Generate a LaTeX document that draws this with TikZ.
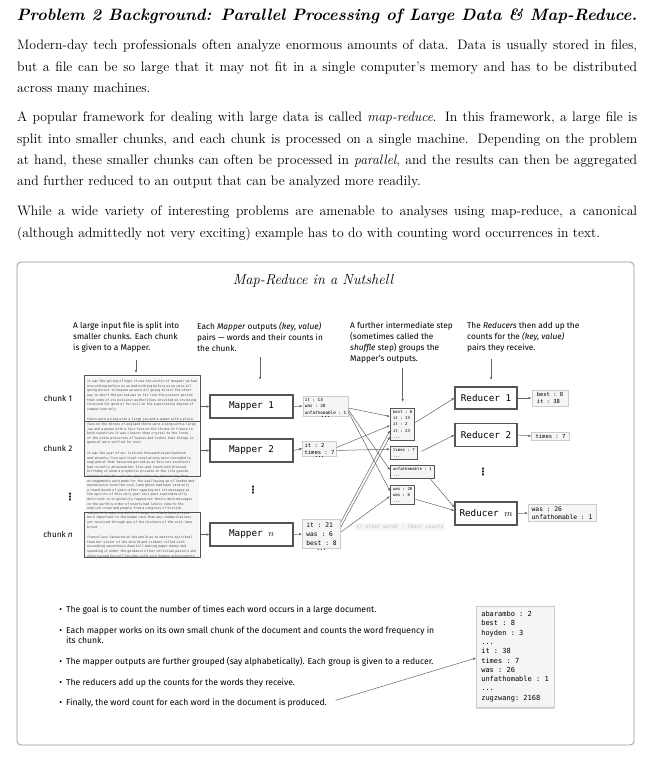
\documentclass[tikz,border=0pt]{standalone}
\usepackage{fontspec}
\setmonofont{DejaVu Sans Mono}
\newfontfamily\fira{Fira Sans}
\newfontfamily\dejavu{DejaVu Sans}
\usepackage{amsmath, amssymb}
\usetikzlibrary{arrows.meta, shadows}
\definecolor{pagegray}{RGB}{245,245,245}
\definecolor{edgegray}{RGB}{85,85,85}
\definecolor{linegray}{RGB}{100,100,100}
\definecolor{rulegray}{RGB}{150,150,150}

\begin{document}
\begin{tikzpicture}[x=1pt, y=-1pt, >={Latex[length=3pt,width=2.4pt]},
  body/.style={inner sep=0, anchor=north west, text width=620pt, align=justify, font=\fontsize{13.7}{21.25}\selectfont},
  note/.style={inner sep=0, anchor=north west, align=left, font=\fira\fontsize{8.3}{11}\selectfont},
  chunk/.style={draw=edgegray, line width=1.1pt, anchor=north west, minimum width=116pt, inner sep=0},
  worker/.style={draw=edgegray, line width=1.1pt, fill=white, minimum width=83pt, minimum height=23pt, font=\ttfamily\fontsize{9.3}{11}\selectfont},
  kv/.style={draw=gray!40, fill=pagegray, align=left, inner sep=2pt, font=\ttfamily\fontsize{4.3}{6.5}\selectfont, drop shadow={shadow xshift=.6pt, shadow yshift=-.6pt, opacity=.25}},
  shufflebox/.style={draw=edgegray, line width=1.1pt, fill=pagegray, anchor=north west, align=left, inner xsep=2.5pt, inner ysep=2pt, font=\ttfamily\fontsize{4}{6.2}\selectfont},
  ellip/.style={anchor=north, inner sep=.5pt, font=\ttfamily\bfseries\fontsize{5}{5}\selectfont},
  vdotsmark/.style={inner sep=0, font=\dejavu\bfseries\fontsize{10}{10}\selectfont},
  bulletline/.style={inner sep=0, anchor=west, align=left, font=\fira\fontsize{8.6}{10.5}\selectfont},
  wire/.style={->, draw=linegray, line width=.5pt}]
  \useasboundingbox (0,0) rectangle (653,770);

  % heading and text
  \node[font=\bfseries\itshape\fontsize{16.5}{19}\selectfont] (title) at (327,16) {Problem 2 Background: Parallel Processing of Large Data \& Map-Reduce.};
  \node[body] (para1) at (17,40) {Modern-day tech professionals often analyze enormous amounts of data. Data is usually stored in files,\linebreak but a file can be so large that it may not fit in a single computer's memory and has to be distributed\linebreak across many machines.};
  \node[body] (para2) at (17,112) {A popular framework for dealing with large data is called \emph{map-reduce}. In this framework, a large file is\linebreak split into smaller chunks, and each chunk is processed on a single machine. Depending on the problem\linebreak at hand, these smaller chunks can often be processed in \emph{parallel}, and the results can then be aggregated\linebreak and further reduced to an output that can be analyzed more readily.};
  \node[body] (para3) at (17,206) {While a wide variety of interesting problems are amenable to analyses using map-reduce, a canonical\linebreak (although admittedly not very exciting) example has to do with counting word occurrences in text.};

  % the box
  \draw[rulegray, line width=.8pt, rounded corners=4pt] (17,262) rectangle (634,745);
  \node[font=\itshape\fontsize{14.5}{16}\selectfont] (nutshell) at (313,281) {Map-Reduce in a Nutshell};

  \node[note] (col1) at (73,322) {A large input file is split into\\smaller chunks. Each chunk\\is given to a Mapper.};
  \node[note] (col2) at (197,322) {Each \textit{Mapper} outputs \textit{(key, value)}\\pairs — words and their counts in\\the chunk.};
  \node[note] (col3) at (350,322) {A further intermediate step\\(sometimes called the\\\textit{shuffle} step) groups the\\Mapper’s outputs.};
  \node[note] (col4) at (467,322) {The \textit{Reducers} then add up the\\counts for the \textit{(key, value)}\\pairs they receive.};

  % input file
  \node[fill=pagegray, anchor=north west, inner sep=0, minimum width=114pt, minimum height=180pt] (page) at (85,377) {};
  \begin{scope}
    \clip (85,377) rectangle (199,557);
    \node[anchor=north west, inner sep=0, text width=110pt, align=left, text=black!70, font=\ttfamily\fontsize{3.3}{4.6}\selectfont] (tale) at (87,380) {it was the spring of hope it was the winter of despair we had everything before us we had nothing before us we were all going direct to heaven we were all going direct the other way in short the period was so far like the present period that some of its noisiest authorities insisted on its being received for good or for evil in the superlative degree of comparison only\par\medskip
    there were a king with a large jaw and a queen with a plain face on the throne of england there were a king with a large jaw and a queen with a fair face on the throne of france in both countries it was clearer than crystal to the lords of the state preserves of loaves and fishes that things in general were settled for ever\par\medskip
    it was the year of our lord one thousand seven hundred and seventy-five spiritual revelations were conceded to england at that favoured period as at this mrs southcott had recently attained her five-and-twentieth blessed birthday of whom a prophetic private in the life guards had heralded the sublime appearance by announcing that arrangements were made for the swallowing up of london and westminster even the cock-lane ghost had been laid only a round dozen of years after rapping out its messages as the spirits of this very year last past supernaturally deficient in originality rapped out theirs mere messages in the earthly order of events had lately come to the english crown and people from a congress of british subjects in america which strange to relate have proved more important to the human race than any communications yet received through any of the chickens of the cock-lane brood\par\medskip
    france less favoured on the whole as to matters spiritual than her sister of the shield and trident rolled with exceeding smoothness down hill making paper money and spending it under the guidance of her christian pastors she entertained herself besides with such humane achievements as sentencing a youth to have his hands cut off};
  \end{scope}
  \node[chunk, minimum height=46pt] (c1) at (84,375) {};
  \node[chunk, minimum height=55pt] (c2) at (84,421) {};
  \node[chunk, minimum height=45pt] (cn) at (84,512) {};
  \node[font=\fira\fontsize{8.2}{10}\selectfont] (lab1) at (58,398) {chunk 1};
  \node[font=\fira\fontsize{8.2}{10}\selectfont] (lab2) at (58,448) {chunk 2};
  \node[vdotsmark] (labdots) at (70,497) {⋮};
  \node[font=\fira\fontsize{8.2}{10}\selectfont] (labn) at (58,534) {chunk \textit{n}};

  % mappers
  \node[worker] (m1) at (251.5,406.5) {Mapper 1};
  \node[worker] (m2) at (251.5,450.5) {Mapper 2};
  \node[vdotsmark] (mdots) at (253,490) {⋮};
  \node[worker] (mn) at (251.5,534.5) {Mapper $n$};
  \draw[wire] (m1.west -| c1.east) -- (m1.west);
  \draw[wire] (m2.west -| c2.east) -- (m2.west);
  \draw[wire] (mn.west -| cn.east) -- (mn.west);

  % mapper outputs
  \node[kv] (o1) at (325.5,406) {it : 13\\was : 20\\unfathomable : 1};
  \node[kv, font=\ttfamily\fontsize{5.5}{7}\selectfont] (o2) at (319.5,448.5) {it : 2\\times : 7};
  \node[kv, inner xsep=4pt, inner ysep=3pt, font=\ttfamily\fontsize{6.3}{9}\selectfont] (on) at (321.5,534) {it : 21\\was : 6\\best : 8};
  \node[ellip] (o1more) at (o1.south) {...};
  \node[ellip] (o2more) at (o2.south) {...};
  \node[ellip] (onmore) at (on.south) {...};
  \draw[wire] (m1.east) -- (o1.west);
  \draw[wire] (m2.east) -- (o2.west);
  \draw[wire] (mn.east) -- (on.west);

  % shuffle
  \node[shufflebox] (s1) at (390,408) {best : 8\\it : 13\\it : 2\\it : 23\\...};
  \node[shufflebox] (s2) at (390,446) {times : 7\\...};
  \node[shufflebox] (s3) at (390,465) {unfathomable : 1\\...};
  \node[shufflebox] (s4) at (390,485) {was : 20\\was : 6\\...};
  \node[fill=gray!7, text=gray!55, inner sep=1.5pt, font=\ttfamily\itshape\fontsize{5}{6}\selectfont] (others) at (400,527) {// other words : their counts};
  \draw[wire] ([yshift=-2pt]o1.east) -- ([yshift=8pt]s1.west);
  \draw[wire] ([yshift=-4pt]o1.east) -- ([yshift=2pt]s3.west);
  \draw[wire] ([yshift=-6pt]o1.east) -- ([yshift=4pt]s4.west);
  \draw[wire] ([yshift=1pt]o2.east) -- ([yshift=-1pt]s1.west);
  \draw[wire] ([yshift=-2pt]o2.east) -- ([yshift=4pt]s2.west);
  \draw[wire] ([yshift=12pt]on.east) -- ([yshift=-6pt]s1.west);
  \draw[wire] ([yshift=7pt]on.east) -- ([yshift=-12pt]s1.west);
  \draw[wire] ([yshift=2pt]on.east) -- ([yshift=-1pt]s4.west);

  % reducers
  \node[worker, minimum width=62pt, minimum height=22pt] (r1) at (486,398) {Reducer 1};
  \node[worker, minimum width=62pt, minimum height=23pt] (r2) at (486,435) {Reducer 2};
  \node[vdotsmark] (rdots) at (483,472) {⋮};
  \node[worker, minimum width=62pt, minimum height=23pt] (rm) at (486,513.5) {Reducer $m$};
  \draw[wire] ([yshift=2pt]s1.east) -- (r1.west);
  \draw[wire, shorten <=4pt] (s2.east) -- (r2.west);
  \draw[wire] ([xshift=-4pt]s3.south east) -- ([yshift=6pt]rm.west);
  \draw[wire] ([yshift=-4pt]s4.east) -- ([yshift=3pt]rm.west);

  % reducer outputs
  \node[kv, inner xsep=5pt, font=\ttfamily\fontsize{5.5}{7.5}\selectfont] (ro1) at (550,398) {best : 8\\it : 38};
  \node[kv, inner xsep=4pt, font=\ttfamily\fontsize{5.5}{7.5}\selectfont] (ro2) at (550.5,436) {times : 7};
  \node[kv, inner xsep=3.5pt, font=\ttfamily\fontsize{6.3}{8.5}\selectfont] (rom) at (562,513) {was : 26\\unfathomable : 1};
  \draw[wire] (r1.east) -- (ro1.west);
  \draw[wire] (r2.east) -- (ro2.west);
  \draw[wire] (rm.east) -- (rom.west);

  % the column arrows
  \coordinate (pin1) at (136,373);
  \coordinate (pin2) at (260,380);
  \coordinate (pin4) at (491,380);
  \draw[wire, shorten <=7pt] (col1.south -| pin1) -- (pin1);
  \draw[wire, shorten <=5pt] (col2.south -| pin2) -- (pin2);
  \draw[wire, shorten <=4pt, shorten >=6pt] (col3.south -| s1.north) -- (s1.north);
  \draw[wire, shorten <=7pt] (col4.south -| pin4) -- (pin4);

  % bullets
  \node[bulletline] (b1) at (66,610) {\llap{\textbullet\hspace{4pt}}The goal is to count the number of times each word occurs in a large document.};
  \node[bulletline, anchor=north west] (b2) at (66,626.5) {\llap{\textbullet\hspace{4pt}}Each mapper works on its own small chunk of the document and counts the word frequency in\\its chunk.};
  \node[bulletline] (b3) at (66,662) {\llap{\textbullet\hspace{4pt}}The mapper outputs are further grouped (say alphabetically). Each group is given to a reducer.};
  \node[bulletline] (b4) at (66,683) {\llap{\textbullet\hspace{4pt}}The reducers add up the counts for the words they receive.};
  \node[bulletline] (b5) at (66,703) {\llap{\textbullet\hspace{4pt}}Finally, the word count for each word in the document is produced.};

  % final count
  \node[kv, inner xsep=5pt, inner ysep=5pt, font=\ttfamily\fontsize{7}{9.3}\selectfont, drop shadow={shadow xshift=0pt, shadow yshift=-2pt, opacity=.35}] (total) at (515,656.5) {abarambo : 2\\best : 8\\hoyden : 3\\...\\it : 38\\times : 7\\was : 26\\unfathomable : 1\\...\\zugzwang: 2168};
  \draw[wire, shorten <=9pt] (b5.east) -- ([yshift=-1.5pt]total.west);
\end{tikzpicture}
\end{document}
